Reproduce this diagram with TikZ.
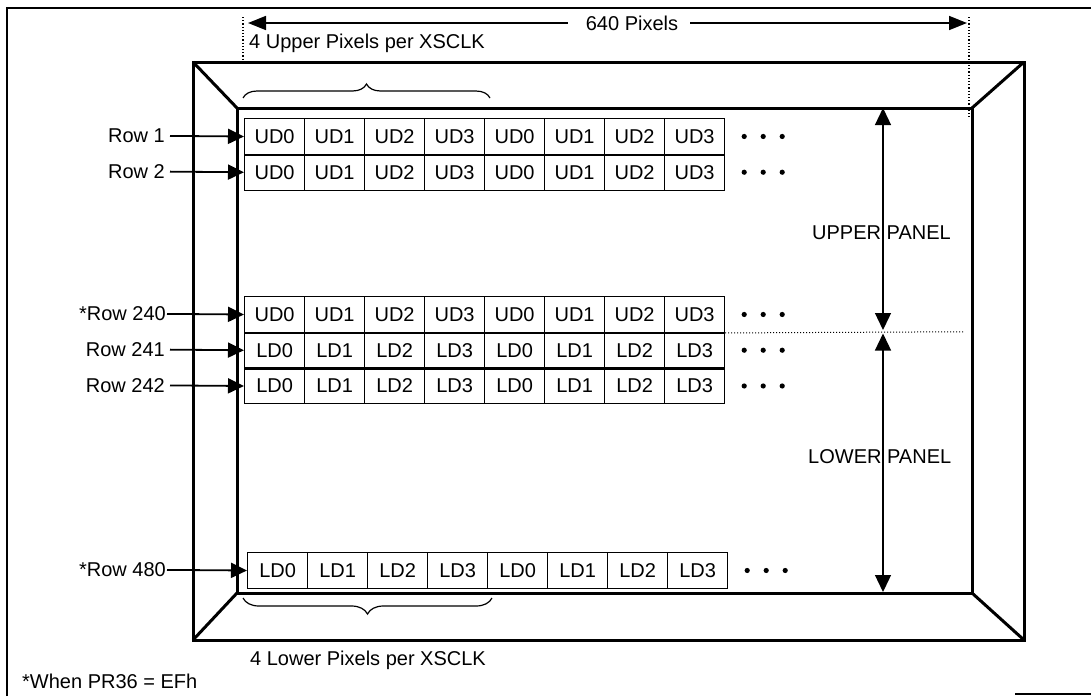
\documentclass[tikz,border=0pt]{standalone}
\usepackage{fontspec}
\setmainfont{Liberation Sans}
\usetikzlibrary{arrows.meta,decorations.pathreplacing,calc}
\begin{document}
\begin{tikzpicture}[x=1pt,y=-1pt,
  txt/.style={font=\fontsize{20}{24}\selectfont, inner sep=0pt},
  cell/.style={draw, line width=1.2pt, minimum width=60pt, minimum height=35.75pt, inner sep=0pt, font=\fontsize{20}{24}\selectfont, anchor=north west},
  bezel/.style={line width=3pt, line join=miter},
  framel/.style={line width=1.3pt},
  bigtri/.style={-{Triangle[length=18pt,width=14pt]}, line width=1.6pt},
  rowarr/.style={-{Triangle[length=16pt,width=15pt]}, line width=1.8pt},
  pantri/.style={{Triangle[length=17pt,width=16pt]}-{Triangle[length=17pt,width=16pt]}, line width=1.3pt},
  guide/.style={dotted, line width=1.2pt},
  brc/.style={decorate, line width=1.2pt},
  sep/.style={line width=2.6pt}
]
\useasboundingbox (0,0) rectangle (1091,696);

% outer frame
\draw[framel] (7,696) -- (7,8) -- (1091,8);
\draw[framel] (1015,694) -- (1091,694);

% width dimension
\coordinate (la) at (248,23);
\coordinate (ra) at (967,23);
\node[txt] (t640) at (632,23) {640 Pixels};
\draw[bigtri, shorten <=18pt] (t640.west) -- (la);
\draw[bigtri, shorten <=12pt] (t640.east) -- (ra);
\draw[guide] (243,17) -- (243,62);
\draw[guide] (969,17) -- (969,118);
\node[txt, anchor=west] (up4) at (249,43) {4 Upper Pixels per XSCLK};

% bezel
\coordinate (o1) at (193,62);  \coordinate (o2) at (1024,62);
\coordinate (o3) at (1024,640); \coordinate (o4) at (193,640);
\coordinate (i1) at (237,108); \coordinate (i2) at (972,108);
\coordinate (i3) at (972,593); \coordinate (i4) at (237,593);
\draw[bezel] (o1) -- (o2) -- (o3) -- (o4) -- cycle;
\draw[bezel] (i1) -- (i2) -- (i3) -- (i4) -- cycle;
\draw[bezel] (o1) -- (i1) (o2) -- (i2) (o3) -- (i3) (o4) -- (i4);

% braces
\draw[brc, decoration={brace, amplitude=14pt}] (243,98) -- (490,98);
\draw[brc, decoration={brace, amplitude=16pt, mirror}] (243,598) -- (492,598);
\node[txt, anchor=west] (lo4) at (250,660) {4 Lower Pixels per XSCLK};
\node[txt, anchor=west] (note) at (22,681) {*When PR36 = EFh};

% rows of cells
\foreach \nm/\tp/\lf/\pre in {r1/118/244/UD, r2/153.75/244/UD, r240/296/244/UD, r241/331.75/244/LD, r242/367.5/244/LD, r480/552/247/LD} {
  \foreach \i in {0,...,7} {
    \pgfmathtruncatemacro\k{mod(\i,4)}
    \node[cell] (\nm c\i) at (\lf+60*\i,\tp) {\pre\k};
  }
  \foreach \d in {19,38,57} {
    \fill ($(\nm c7.east)+(\d,0)$) circle [radius=2.6pt];
  }
}
\draw[sep] (r1c0.south west) -- (r1c7.south east);
\draw[sep] (r240c0.south west) -- (r240c7.south east);
\draw[sep] (r241c0.south west) -- (r241c7.south east);

% row labels
\node[txt, anchor=east] (l1) at (165,135.9) {Row 1};
\node[txt, anchor=east] (l2) at (165,171.6) {Row 2};
\node[txt, anchor=east] (l240) at (166,313.9) {*Row 240};
\node[txt, anchor=east] (l241) at (165,349.6) {Row 241};
\node[txt, anchor=east] (l242) at (165,385.4) {Row 242};
\node[txt, anchor=east] (l480) at (166,569.9) {*Row 480};
\draw[rowarr, shorten <=5pt] (l1.east) -- (r1c0.west);
\draw[rowarr, shorten <=5pt] (l2.east) -- (r2c0.west);
\draw[rowarr, shorten <=1pt] (l240.east) -- (r240c0.west);
\draw[rowarr, shorten <=5pt] (l241.east) -- (r241c0.west);
\draw[rowarr, shorten <=5pt] (l242.east) -- (r242c0.west);
\draw[rowarr, shorten <=1pt] (l480.east) -- (r480c0.west);

% panel dimensions
\coordinate (uat) at (883,108);
\coordinate (uab) at (883,330);
\coordinate (lat) at (883,333.5);
\coordinate (lab) at (883,592);
\coordinate (dotend) at (963,331.75);
\draw[pantri] (uat) -- (uab);
\draw[pantri] (lat) -- (lab);
\draw[guide, line width=1pt] (r240c7.south east) -- (dotend);
\node[txt, anchor=west] (upp) at (812,233) {UPPER PANEL};
\node[txt, anchor=west] (lop) at (808,457) {LOWER PANEL};
\end{tikzpicture}
\end{document}
